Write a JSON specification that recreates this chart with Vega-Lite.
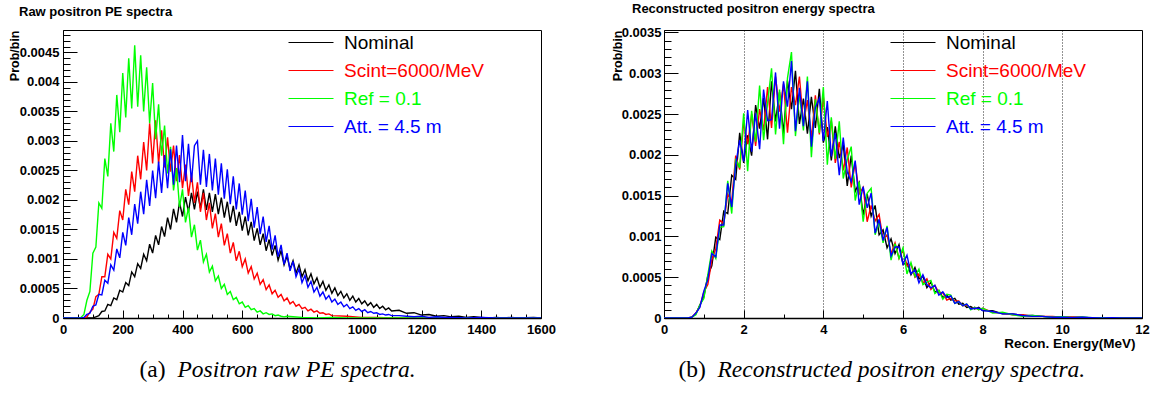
{
"$schema":"https://vega.github.io/schema/vega-lite/v6.json",
"padding":{"left":7,"top":2,"right":6,"bottom":6},
"background":"white",
"bounds":"flush",
"spacing":123,
"config":{"view":{"stroke":"#000","strokeWidth":1},"axis":{"labelFont":"Liberation Sans","labelFontWeight":"bold","labelFontSize":13,"labelColor":"#000","tickColor":"#000","domainColor":"#000","titleColor":"#000","labelFlush":false,"labelOverlap":false,"grid":false,"tickWidth":1}},
"resolve":{"scale":{"color":"shared"},"legend":{"color":"independent"}},
"datasets":{
"left":[
{"s":"N","x":0,"y":0},{"s":"N","x":100,"y":0},{"s":"N","x":110,"y":0.00002},{"s":"N","x":120,"y":0.00004},{"s":"N","x":130,"y":0.00011},{"s":"N","x":140,"y":0.00012},{"s":"N","x":150,"y":0.00023},{"s":"N","x":160,"y":0.00021},{"s":"N","x":170,"y":0.00034},{"s":"N","x":180,"y":0.00031},{"s":"N","x":190,"y":0.00047},{"s":"N","x":200,"y":0.00044},{"s":"N","x":210,"y":0.0006},{"s":"N","x":220,"y":0.00055},{"s":"N","x":230,"y":0.00078},{"s":"N","x":240,"y":0.0007},{"s":"N","x":250,"y":0.00092},{"s":"N","x":260,"y":0.00084},{"s":"N","x":270,"y":0.00108},{"s":"N","x":280,"y":0.00097},{"s":"N","x":290,"y":0.00125},{"s":"N","x":300,"y":0.0011},{"s":"N","x":310,"y":0.0014},{"s":"N","x":320,"y":0.00124},{"s":"N","x":330,"y":0.00155},{"s":"N","x":340,"y":0.00138},{"s":"N","x":350,"y":0.0017},{"s":"N","x":360,"y":0.0015},{"s":"N","x":370,"y":0.00185},{"s":"N","x":380,"y":0.00162},{"s":"N","x":390,"y":0.00196},{"s":"N","x":400,"y":0.00172},{"s":"N","x":410,"y":0.00205},{"s":"N","x":420,"y":0.0018},{"s":"N","x":430,"y":0.00212},{"s":"N","x":440,"y":0.00184},{"s":"N","x":450,"y":0.00214},{"s":"N","x":460,"y":0.00186},{"s":"N","x":470,"y":0.00218},{"s":"N","x":480,"y":0.00183},{"s":"N","x":490,"y":0.00212},{"s":"N","x":500,"y":0.0018},{"s":"N","x":510,"y":0.0021},{"s":"N","x":520,"y":0.00176},{"s":"N","x":530,"y":0.00204},{"s":"N","x":540,"y":0.0017},{"s":"N","x":550,"y":0.00197},{"s":"N","x":560,"y":0.00162},{"s":"N","x":570,"y":0.0019},{"s":"N","x":580,"y":0.00156},{"s":"N","x":590,"y":0.0018},{"s":"N","x":600,"y":0.00148},{"s":"N","x":610,"y":0.00172},{"s":"N","x":620,"y":0.0014},{"s":"N","x":630,"y":0.00163},{"s":"N","x":640,"y":0.00131},{"s":"N","x":650,"y":0.00152},{"s":"N","x":660,"y":0.00124},{"s":"N","x":670,"y":0.00143},{"s":"N","x":680,"y":0.00114},{"s":"N","x":690,"y":0.00133},{"s":"N","x":700,"y":0.00106},{"s":"N","x":710,"y":0.00123},{"s":"N","x":720,"y":0.00098},{"s":"N","x":730,"y":0.00114},{"s":"N","x":740,"y":0.0009},{"s":"N","x":750,"y":0.00105},{"s":"N","x":760,"y":0.00083},{"s":"N","x":770,"y":0.00097},{"s":"N","x":780,"y":0.00076},{"s":"N","x":790,"y":0.0009},{"s":"N","x":800,"y":0.0007},{"s":"N","x":810,"y":0.00082},{"s":"N","x":820,"y":0.00063},{"s":"N","x":830,"y":0.00075},{"s":"N","x":840,"y":0.00058},{"s":"N","x":850,"y":0.00068},{"s":"N","x":860,"y":0.00052},{"s":"N","x":870,"y":0.00062},{"s":"N","x":880,"y":0.00047},{"s":"N","x":890,"y":0.00056},{"s":"N","x":900,"y":0.00042},{"s":"N","x":910,"y":0.00051},{"s":"N","x":920,"y":0.00038},{"s":"N","x":930,"y":0.00045},{"s":"N","x":940,"y":0.00034},{"s":"N","x":950,"y":0.00041},{"s":"N","x":960,"y":0.0003},{"s":"N","x":970,"y":0.00037},{"s":"N","x":980,"y":0.00027},{"s":"N","x":990,"y":0.00033},{"s":"N","x":1000,"y":0.00024},{"s":"N","x":1010,"y":0.00029},{"s":"N","x":1020,"y":0.00021},{"s":"N","x":1030,"y":0.00026},{"s":"N","x":1040,"y":0.00018},{"s":"N","x":1050,"y":0.00023},{"s":"N","x":1060,"y":0.00016},{"s":"N","x":1070,"y":0.0002},{"s":"N","x":1080,"y":0.00014},{"s":"N","x":1090,"y":0.00017},{"s":"N","x":1100,"y":0.00012},{"s":"N","x":1125,"y":0.00013},{"s":"N","x":1150,"y":0.00008},{"s":"N","x":1175,"y":0.00009},{"s":"N","x":1200,"y":0.00005},{"s":"N","x":1225,"y":0.00006},{"s":"N","x":1250,"y":0.00003},{"s":"N","x":1275,"y":0.00004},{"s":"N","x":1300,"y":0.00002},{"s":"N","x":1325,"y":0.00003},{"s":"N","x":1350,"y":0.00001},{"s":"N","x":1375,"y":0.00002},{"s":"N","x":1400,"y":0.00001},{"s":"N","x":1425,"y":0},{"s":"N","x":1450,"y":0.00001},{"s":"N","x":1475,"y":0},{"s":"N","x":1500,"y":0.00001},{"s":"N","x":1525,"y":0},{"s":"N","x":1575,"y":0.00001},{"s":"N","x":1600,"y":0},
{"s":"S","x":0,"y":0},{"s":"S","x":70,"y":0},{"s":"S","x":80,"y":0.00002},{"s":"S","x":90,"y":0.0001},{"s":"S","x":100,"y":0.00015},{"s":"S","x":110,"y":0.00036},{"s":"S","x":120,"y":0.0004},{"s":"S","x":130,"y":0.0007},{"s":"S","x":140,"y":0.0007},{"s":"S","x":150,"y":0.00108},{"s":"S","x":160,"y":0.001},{"s":"S","x":170,"y":0.00145},{"s":"S","x":180,"y":0.00135},{"s":"S","x":190,"y":0.00182},{"s":"S","x":200,"y":0.00166},{"s":"S","x":210,"y":0.00218},{"s":"S","x":220,"y":0.00192},{"s":"S","x":230,"y":0.00248},{"s":"S","x":240,"y":0.00214},{"s":"S","x":250,"y":0.00275},{"s":"S","x":260,"y":0.00235},{"s":"S","x":270,"y":0.00298},{"s":"S","x":280,"y":0.0025},{"s":"S","x":290,"y":0.0033},{"s":"S","x":300,"y":0.00262},{"s":"S","x":310,"y":0.00335},{"s":"S","x":320,"y":0.00262},{"s":"S","x":330,"y":0.00318},{"s":"S","x":340,"y":0.00255},{"s":"S","x":350,"y":0.00306},{"s":"S","x":360,"y":0.00248},{"s":"S","x":370,"y":0.00292},{"s":"S","x":380,"y":0.00232},{"s":"S","x":390,"y":0.00276},{"s":"S","x":400,"y":0.0022},{"s":"S","x":410,"y":0.0026},{"s":"S","x":420,"y":0.00207},{"s":"S","x":430,"y":0.00245},{"s":"S","x":440,"y":0.00195},{"s":"S","x":450,"y":0.0023},{"s":"S","x":460,"y":0.0018},{"s":"S","x":470,"y":0.00212},{"s":"S","x":480,"y":0.00166},{"s":"S","x":490,"y":0.00195},{"s":"S","x":500,"y":0.00152},{"s":"S","x":510,"y":0.00177},{"s":"S","x":520,"y":0.00137},{"s":"S","x":530,"y":0.0016},{"s":"S","x":540,"y":0.00123},{"s":"S","x":550,"y":0.00143},{"s":"S","x":560,"y":0.0011},{"s":"S","x":570,"y":0.00128},{"s":"S","x":580,"y":0.00097},{"s":"S","x":590,"y":0.00113},{"s":"S","x":600,"y":0.00087},{"s":"S","x":610,"y":0.001},{"s":"S","x":620,"y":0.00076},{"s":"S","x":630,"y":0.00087},{"s":"S","x":640,"y":0.00066},{"s":"S","x":650,"y":0.00076},{"s":"S","x":660,"y":0.00057},{"s":"S","x":670,"y":0.00065},{"s":"S","x":680,"y":0.00048},{"s":"S","x":690,"y":0.00056},{"s":"S","x":700,"y":0.00041},{"s":"S","x":710,"y":0.00047},{"s":"S","x":720,"y":0.00035},{"s":"S","x":730,"y":0.0004},{"s":"S","x":740,"y":0.00029},{"s":"S","x":750,"y":0.00034},{"s":"S","x":760,"y":0.00024},{"s":"S","x":770,"y":0.00028},{"s":"S","x":780,"y":0.0002},{"s":"S","x":790,"y":0.00023},{"s":"S","x":800,"y":0.00016},{"s":"S","x":810,"y":0.00018},{"s":"S","x":820,"y":0.00012},{"s":"S","x":830,"y":0.00015},{"s":"S","x":840,"y":0.0001},{"s":"S","x":850,"y":0.00012},{"s":"S","x":860,"y":0.00008},{"s":"S","x":870,"y":0.00009},{"s":"S","x":880,"y":0.00006},{"s":"S","x":890,"y":0.00007},{"s":"S","x":900,"y":0.00004},{"s":"S","x":950,"y":0.00003},{"s":"S","x":1000,"y":0.00001},{"s":"S","x":1050,"y":0.00001},{"s":"S","x":1100,"y":0},{"s":"S","x":1600,"y":0},
{"s":"R","x":0,"y":0},{"s":"R","x":50,"y":0},{"s":"R","x":60,"y":0.00001},{"s":"R","x":70,"y":0.00006},{"s":"R","x":80,"y":0.0003},{"s":"R","x":90,"y":0.00045},{"s":"R","x":100,"y":0.0011},{"s":"R","x":110,"y":0.0012},{"s":"R","x":120,"y":0.00195},{"s":"R","x":130,"y":0.00186},{"s":"R","x":140,"y":0.0027},{"s":"R","x":150,"y":0.0024},{"s":"R","x":160,"y":0.0033},{"s":"R","x":170,"y":0.00282},{"s":"R","x":180,"y":0.00378},{"s":"R","x":190,"y":0.00315},{"s":"R","x":200,"y":0.00415},{"s":"R","x":210,"y":0.0034},{"s":"R","x":220,"y":0.0044},{"s":"R","x":230,"y":0.00355},{"s":"R","x":240,"y":0.00462},{"s":"R","x":250,"y":0.00358},{"s":"R","x":260,"y":0.00445},{"s":"R","x":270,"y":0.0035},{"s":"R","x":280,"y":0.00425},{"s":"R","x":290,"y":0.0033},{"s":"R","x":300,"y":0.00398},{"s":"R","x":310,"y":0.00303},{"s":"R","x":320,"y":0.00362},{"s":"R","x":330,"y":0.00275},{"s":"R","x":340,"y":0.00326},{"s":"R","x":350,"y":0.00245},{"s":"R","x":360,"y":0.0029},{"s":"R","x":370,"y":0.00216},{"s":"R","x":380,"y":0.00254},{"s":"R","x":390,"y":0.00188},{"s":"R","x":400,"y":0.00218},{"s":"R","x":410,"y":0.00162},{"s":"R","x":420,"y":0.00187},{"s":"R","x":430,"y":0.00137},{"s":"R","x":440,"y":0.00158},{"s":"R","x":450,"y":0.00115},{"s":"R","x":460,"y":0.00132},{"s":"R","x":470,"y":0.00095},{"s":"R","x":480,"y":0.00108},{"s":"R","x":490,"y":0.00078},{"s":"R","x":500,"y":0.00088},{"s":"R","x":510,"y":0.00063},{"s":"R","x":520,"y":0.00071},{"s":"R","x":530,"y":0.0005},{"s":"R","x":540,"y":0.00057},{"s":"R","x":550,"y":0.0004},{"s":"R","x":560,"y":0.00045},{"s":"R","x":570,"y":0.00031},{"s":"R","x":580,"y":0.00035},{"s":"R","x":590,"y":0.00024},{"s":"R","x":600,"y":0.00027},{"s":"R","x":610,"y":0.00018},{"s":"R","x":620,"y":0.00021},{"s":"R","x":630,"y":0.00014},{"s":"R","x":640,"y":0.00016},{"s":"R","x":650,"y":0.0001},{"s":"R","x":660,"y":0.00012},{"s":"R","x":670,"y":0.00007},{"s":"R","x":680,"y":0.00009},{"s":"R","x":690,"y":0.00006},{"s":"R","x":700,"y":0.00007},{"s":"R","x":710,"y":0.00004},{"s":"R","x":720,"y":0.00005},{"s":"R","x":730,"y":0.00003},{"s":"R","x":740,"y":0.00002},{"s":"R","x":750,"y":0.00003},{"s":"R","x":800,"y":0.00001},{"s":"R","x":850,"y":0},{"s":"R","x":900,"y":0.00001},{"s":"R","x":950,"y":0},{"s":"R","x":1600,"y":0},
{"s":"A","x":0,"y":0},{"s":"A","x":60,"y":0},{"s":"A","x":70,"y":0.00001},{"s":"A","x":80,"y":0.00006},{"s":"A","x":90,"y":0.00008},{"s":"A","x":100,"y":0.0002},{"s":"A","x":110,"y":0.00022},{"s":"A","x":120,"y":0.0004},{"s":"A","x":130,"y":0.00039},{"s":"A","x":140,"y":0.00064},{"s":"A","x":150,"y":0.00059},{"s":"A","x":160,"y":0.0009},{"s":"A","x":170,"y":0.00081},{"s":"A","x":180,"y":0.00117},{"s":"A","x":190,"y":0.00102},{"s":"A","x":200,"y":0.00145},{"s":"A","x":210,"y":0.00123},{"s":"A","x":220,"y":0.0017},{"s":"A","x":230,"y":0.00141},{"s":"A","x":240,"y":0.00193},{"s":"A","x":250,"y":0.0016},{"s":"A","x":260,"y":0.00214},{"s":"A","x":270,"y":0.00176},{"s":"A","x":280,"y":0.00234},{"s":"A","x":290,"y":0.0019},{"s":"A","x":300,"y":0.0025},{"s":"A","x":310,"y":0.00203},{"s":"A","x":320,"y":0.00265},{"s":"A","x":330,"y":0.00212},{"s":"A","x":340,"y":0.00276},{"s":"A","x":350,"y":0.0022},{"s":"A","x":360,"y":0.00286},{"s":"A","x":370,"y":0.00226},{"s":"A","x":380,"y":0.00292},{"s":"A","x":390,"y":0.0023},{"s":"A","x":400,"y":0.0031},{"s":"A","x":410,"y":0.00232},{"s":"A","x":420,"y":0.00295},{"s":"A","x":430,"y":0.0023},{"s":"A","x":440,"y":0.00292},{"s":"A","x":450,"y":0.003},{"s":"A","x":460,"y":0.00226},{"s":"A","x":470,"y":0.00285},{"s":"A","x":480,"y":0.00222},{"s":"A","x":490,"y":0.00278},{"s":"A","x":500,"y":0.00216},{"s":"A","x":510,"y":0.0027},{"s":"A","x":520,"y":0.00209},{"s":"A","x":530,"y":0.00262},{"s":"A","x":540,"y":0.00202},{"s":"A","x":550,"y":0.00252},{"s":"A","x":560,"y":0.00193},{"s":"A","x":570,"y":0.0024},{"s":"A","x":580,"y":0.00184},{"s":"A","x":590,"y":0.00228},{"s":"A","x":600,"y":0.00175},{"s":"A","x":610,"y":0.00216},{"s":"A","x":620,"y":0.00164},{"s":"A","x":630,"y":0.00202},{"s":"A","x":640,"y":0.00153},{"s":"A","x":650,"y":0.00188},{"s":"A","x":660,"y":0.00142},{"s":"A","x":670,"y":0.00172},{"s":"A","x":680,"y":0.00129},{"s":"A","x":690,"y":0.00156},{"s":"A","x":700,"y":0.00116},{"s":"A","x":710,"y":0.0014},{"s":"A","x":720,"y":0.00104},{"s":"A","x":730,"y":0.00124},{"s":"A","x":740,"y":0.00091},{"s":"A","x":750,"y":0.0011},{"s":"A","x":760,"y":0.0008},{"s":"A","x":770,"y":0.00096},{"s":"A","x":780,"y":0.0007},{"s":"A","x":790,"y":0.00083},{"s":"A","x":800,"y":0.0006},{"s":"A","x":810,"y":0.00072},{"s":"A","x":820,"y":0.00052},{"s":"A","x":830,"y":0.00062},{"s":"A","x":840,"y":0.00044},{"s":"A","x":850,"y":0.00052},{"s":"A","x":860,"y":0.00037},{"s":"A","x":870,"y":0.00044},{"s":"A","x":880,"y":0.00032},{"s":"A","x":890,"y":0.00038},{"s":"A","x":900,"y":0.00027},{"s":"A","x":910,"y":0.00032},{"s":"A","x":920,"y":0.00023},{"s":"A","x":930,"y":0.00027},{"s":"A","x":940,"y":0.00019},{"s":"A","x":950,"y":0.00023},{"s":"A","x":960,"y":0.00016},{"s":"A","x":970,"y":0.00019},{"s":"A","x":980,"y":0.00013},{"s":"A","x":990,"y":0.00016},{"s":"A","x":1000,"y":0.00011},{"s":"A","x":1010,"y":0.00014},{"s":"A","x":1020,"y":0.00009},{"s":"A","x":1030,"y":0.00011},{"s":"A","x":1040,"y":0.00008},{"s":"A","x":1050,"y":0.00009},{"s":"A","x":1060,"y":0.00006},{"s":"A","x":1070,"y":0.00007},{"s":"A","x":1080,"y":0.00005},{"s":"A","x":1090,"y":0.00006},{"s":"A","x":1100,"y":0.00004},{"s":"A","x":1125,"y":0.00004},{"s":"A","x":1150,"y":0.00003},{"s":"A","x":1175,"y":0.00002},{"s":"A","x":1200,"y":0.00003},{"s":"A","x":1225,"y":0.00001},{"s":"A","x":1250,"y":0.00002},{"s":"A","x":1275,"y":0.00001},{"s":"A","x":1300,"y":0.00001},{"s":"A","x":1350,"y":0},{"s":"A","x":1400,"y":0.00001},{"s":"A","x":1450,"y":0},{"s":"A","x":1600,"y":0}
],
"right":[
{"s":"N","x":0,"y":0},{"s":"N","x":0.6,"y":0},{"s":"N","x":0.7,"y":0.00001},{"s":"N","x":0.8,"y":0.00005},{"s":"N","x":0.9,"y":0.00016},{"s":"N","x":1,"y":0.00026},{"s":"N","x":1.1,"y":0.00052},{"s":"N","x":1.2,"y":0.00064},{"s":"N","x":1.3,"y":0.00099},{"s":"N","x":1.4,"y":0.00096},{"s":"N","x":1.5,"y":0.00131},{"s":"N","x":1.6,"y":0.00128},{"s":"N","x":1.7,"y":0.00175},{"s":"N","x":1.8,"y":0.0017},{"s":"N","x":1.9,"y":0.00227},{"s":"N","x":2,"y":0.0019},{"s":"N","x":2.1,"y":0.00224},{"s":"N","x":2.2,"y":0.00199},{"s":"N","x":2.3,"y":0.00261},{"s":"N","x":2.4,"y":0.00232},{"s":"N","x":2.5,"y":0.0027},{"s":"N","x":2.6,"y":0.00219},{"s":"N","x":2.7,"y":0.0029},{"s":"N","x":2.8,"y":0.00241},{"s":"N","x":2.9,"y":0.00277},{"s":"N","x":3,"y":0.00226},{"s":"N","x":3.1,"y":0.00291},{"s":"N","x":3.2,"y":0.00256},{"s":"N","x":3.3,"y":0.00303},{"s":"N","x":3.4,"y":0.00238},{"s":"N","x":3.5,"y":0.00269},{"s":"N","x":3.6,"y":0.00226},{"s":"N","x":3.7,"y":0.00271},{"s":"N","x":3.8,"y":0.00233},{"s":"N","x":3.9,"y":0.00281},{"s":"N","x":4,"y":0.00215},{"s":"N","x":4.1,"y":0.00234},{"s":"N","x":4.2,"y":0.00193},{"s":"N","x":4.3,"y":0.00235},{"s":"N","x":4.4,"y":0.00196},{"s":"N","x":4.5,"y":0.00213},{"s":"N","x":4.6,"y":0.00162},{"s":"N","x":4.7,"y":0.00199},{"s":"N","x":4.8,"y":0.00155},{"s":"N","x":4.9,"y":0.00166},{"s":"N","x":5,"y":0.00126},{"s":"N","x":5.1,"y":0.00152},{"s":"N","x":5.2,"y":0.00125},{"s":"N","x":5.3,"y":0.00138},{"s":"N","x":5.4,"y":0.00102},{"s":"N","x":5.5,"y":0.00108},{"s":"N","x":5.6,"y":0.00086},{"s":"N","x":5.7,"y":0.00097},{"s":"N","x":5.8,"y":0.00079},{"s":"N","x":5.9,"y":0.0009},{"s":"N","x":6,"y":0.00066},{"s":"N","x":6.1,"y":0.00067},{"s":"N","x":6.2,"y":0.00053},{"s":"N","x":6.3,"y":0.00062},{"s":"N","x":6.4,"y":0.00048},{"s":"N","x":6.5,"y":0.00051},{"s":"N","x":6.6,"y":0.00037},{"s":"N","x":6.7,"y":0.00044},{"s":"N","x":6.8,"y":0.00032},{"s":"N","x":6.9,"y":0.00034},{"s":"N","x":7,"y":0.00025},{"s":"N","x":7.1,"y":0.00028},{"s":"N","x":7.2,"y":0.00022},{"s":"N","x":7.3,"y":0.00024},{"s":"N","x":7.4,"y":0.00017},{"s":"N","x":7.5,"y":0.00018},{"s":"N","x":7.6,"y":0.00013},{"s":"N","x":7.7,"y":0.00014},{"s":"N","x":7.8,"y":0.00011},{"s":"N","x":7.9,"y":0.00013},{"s":"N","x":8,"y":0.00009},{"s":"N","x":8.25,"y":0.00009},{"s":"N","x":8.5,"y":0.00005},{"s":"N","x":8.75,"y":0.00005},{"s":"N","x":9,"y":0.00003},{"s":"N","x":9.25,"y":0.00003},{"s":"N","x":9.5,"y":0.00002},{"s":"N","x":9.75,"y":0.00001},{"s":"N","x":10,"y":0.00001},{"s":"N","x":10.25,"y":0.00001},{"s":"N","x":10.5,"y":0.00001},{"s":"N","x":10.75,"y":0},{"s":"N","x":11,"y":0.000005},{"s":"N","x":11.25,"y":0},{"s":"N","x":12,"y":0},
{"s":"S","x":0,"y":0},{"s":"S","x":0.6,"y":0},{"s":"S","x":0.7,"y":0.00001},{"s":"S","x":0.8,"y":0.00006},{"s":"S","x":0.9,"y":0.00014},{"s":"S","x":1,"y":0.00032},{"s":"S","x":1.1,"y":0.00041},{"s":"S","x":1.2,"y":0.00071},{"s":"S","x":1.3,"y":0.00085},{"s":"S","x":1.4,"y":0.0012},{"s":"S","x":1.5,"y":0.00116},{"s":"S","x":1.6,"y":0.00152},{"s":"S","x":1.7,"y":0.00143},{"s":"S","x":1.8,"y":0.00199},{"s":"S","x":1.9,"y":0.00182},{"s":"S","x":2,"y":0.0024},{"s":"S","x":2.1,"y":0.00213},{"s":"S","x":2.2,"y":0.0025},{"s":"S","x":2.3,"y":0.00211},{"s":"S","x":2.4,"y":0.00256},{"s":"S","x":2.5,"y":0.0023},{"s":"S","x":2.6,"y":0.00283},{"s":"S","x":2.7,"y":0.00233},{"s":"S","x":2.8,"y":0.00296},{"s":"S","x":2.9,"y":0.00253},{"s":"S","x":3,"y":0.00287},{"s":"S","x":3.1,"y":0.00227},{"s":"S","x":3.2,"y":0.00283},{"s":"S","x":3.3,"y":0.00261},{"s":"S","x":3.4,"y":0.00296},{"s":"S","x":3.5,"y":0.00238},{"s":"S","x":3.6,"y":0.00267},{"s":"S","x":3.7,"y":0.0022},{"s":"S","x":3.8,"y":0.00273},{"s":"S","x":3.9,"y":0.00225},{"s":"S","x":4,"y":0.00271},{"s":"S","x":4.1,"y":0.00222},{"s":"S","x":4.2,"y":0.00242},{"s":"S","x":4.3,"y":0.0019},{"s":"S","x":4.4,"y":0.00216},{"s":"S","x":4.5,"y":0.00181},{"s":"S","x":4.6,"y":0.00209},{"s":"S","x":4.7,"y":0.0016},{"s":"S","x":4.8,"y":0.0019},{"s":"S","x":4.9,"y":0.00152},{"s":"S","x":5,"y":0.0016},{"s":"S","x":5.1,"y":0.00118},{"s":"S","x":5.2,"y":0.00138},{"s":"S","x":5.3,"y":0.00119},{"s":"S","x":5.4,"y":0.00127},{"s":"S","x":5.5,"y":0.00096},{"s":"S","x":5.6,"y":0.00102},{"s":"S","x":5.7,"y":0.00079},{"s":"S","x":5.8,"y":0.00092},{"s":"S","x":5.9,"y":0.00073},{"s":"S","x":6,"y":0.00083},{"s":"S","x":6.1,"y":0.00064},{"s":"S","x":6.2,"y":0.00066},{"s":"S","x":6.3,"y":0.0005},{"s":"S","x":6.4,"y":0.00054},{"s":"S","x":6.5,"y":0.00043},{"s":"S","x":6.6,"y":0.00048},{"s":"S","x":6.7,"y":0.00035},{"s":"S","x":6.8,"y":0.0004},{"s":"S","x":6.9,"y":0.00031},{"s":"S","x":7,"y":0.00031},{"s":"S","x":7.1,"y":0.00022},{"s":"S","x":7.2,"y":0.00024},{"s":"S","x":7.3,"y":0.00021},{"s":"S","x":7.4,"y":0.00021},{"s":"S","x":7.5,"y":0.00015},{"s":"S","x":7.6,"y":0.00016},{"s":"S","x":7.7,"y":0.00011},{"s":"S","x":7.8,"y":0.00013},{"s":"S","x":7.9,"y":0.0001},{"s":"S","x":8,"y":0.00012},{"s":"S","x":8.25,"y":0.00007},{"s":"S","x":8.5,"y":0.00006},{"s":"S","x":8.75,"y":0.00004},{"s":"S","x":9,"y":0.00004},{"s":"S","x":9.25,"y":0.00002},{"s":"S","x":9.5,"y":0.00002},{"s":"S","x":9.75,"y":0.00002},{"s":"S","x":10,"y":0.00001},{"s":"S","x":10.25,"y":0.00001},{"s":"S","x":10.5,"y":0.000005},{"s":"S","x":10.75,"y":0.000005},{"s":"S","x":11,"y":0},{"s":"S","x":12,"y":0},
{"s":"R","x":0,"y":0},{"s":"R","x":0.6,"y":0},{"s":"R","x":0.7,"y":0.00001},{"s":"R","x":0.8,"y":0.00004},{"s":"R","x":0.9,"y":0.00016},{"s":"R","x":1,"y":0.00024},{"s":"R","x":1.1,"y":0.00053},{"s":"R","x":1.2,"y":0.00082},{"s":"R","x":1.3,"y":0.00073},{"s":"R","x":1.4,"y":0.00111},{"s":"R","x":1.5,"y":0.00112},{"s":"R","x":1.6,"y":0.00168},{"s":"R","x":1.7,"y":0.00128},{"s":"R","x":1.8,"y":0.00195},{"s":"R","x":1.9,"y":0.00184},{"s":"R","x":2,"y":0.00251},{"s":"R","x":2.1,"y":0.0018},{"s":"R","x":2.2,"y":0.00254},{"s":"R","x":2.3,"y":0.00216},{"s":"R","x":2.4,"y":0.00285},{"s":"R","x":2.5,"y":0.00218},{"s":"R","x":2.6,"y":0.00263},{"s":"R","x":2.7,"y":0.00306},{"s":"R","x":2.8,"y":0.00225},{"s":"R","x":2.9,"y":0.0028},{"s":"R","x":3,"y":0.00213},{"s":"R","x":3.1,"y":0.00294},{"s":"R","x":3.2,"y":0.00326},{"s":"R","x":3.3,"y":0.00223},{"s":"R","x":3.4,"y":0.00275},{"s":"R","x":3.5,"y":0.0023},{"s":"R","x":3.6,"y":0.00296},{"s":"R","x":3.7,"y":0.00197},{"s":"R","x":3.8,"y":0.00268},{"s":"R","x":3.9,"y":0.00227},{"s":"R","x":4,"y":0.00283},{"s":"R","x":4.1,"y":0.00188},{"s":"R","x":4.2,"y":0.00246},{"s":"R","x":4.3,"y":0.00195},{"s":"R","x":4.4,"y":0.00241},{"s":"R","x":4.5,"y":0.00171},{"s":"R","x":4.6,"y":0.00194},{"s":"R","x":4.7,"y":0.0021},{"s":"R","x":4.8,"y":0.00144},{"s":"R","x":4.9,"y":0.00167},{"s":"R","x":5,"y":0.00118},{"s":"R","x":5.1,"y":0.00153},{"s":"R","x":5.2,"y":0.00159},{"s":"R","x":5.3,"y":0.00102},{"s":"R","x":5.4,"y":0.00118},{"s":"R","x":5.5,"y":0.00092},{"s":"R","x":5.6,"y":0.00113},{"s":"R","x":5.7,"y":0.00071},{"s":"R","x":5.8,"y":0.00091},{"s":"R","x":5.9,"y":0.00073},{"s":"R","x":6,"y":0.00086},{"s":"R","x":6.1,"y":0.00054},{"s":"R","x":6.2,"y":0.00068},{"s":"R","x":6.3,"y":0.00051},{"s":"R","x":6.4,"y":0.0006},{"s":"R","x":6.5,"y":0.00041},{"s":"R","x":6.6,"y":0.00044},{"s":"R","x":6.7,"y":0.00046},{"s":"R","x":6.8,"y":0.0003},{"s":"R","x":6.9,"y":0.00034},{"s":"R","x":7,"y":0.00023},{"s":"R","x":7.1,"y":0.00029},{"s":"R","x":7.2,"y":0.00028},{"s":"R","x":7.3,"y":0.00018},{"s":"R","x":7.4,"y":0.0002},{"s":"R","x":7.5,"y":0.00015},{"s":"R","x":7.6,"y":0.00017},{"s":"R","x":7.7,"y":0.0001},{"s":"R","x":7.8,"y":0.00013},{"s":"R","x":7.9,"y":0.0001},{"s":"R","x":8,"y":0.00012},{"s":"R","x":8.25,"y":0.00006},{"s":"R","x":8.5,"y":0.00007},{"s":"R","x":8.75,"y":0.00004},{"s":"R","x":9,"y":0.00002},{"s":"R","x":9.25,"y":0.00003},{"s":"R","x":9.5,"y":0.00002},{"s":"R","x":9.75,"y":0.00001},{"s":"R","x":10,"y":0.000015},{"s":"R","x":10.25,"y":0.000005},{"s":"R","x":10.5,"y":0.00001},{"s":"R","x":10.75,"y":0.000005},{"s":"R","x":11,"y":0.000005},{"s":"R","x":11.25,"y":0},{"s":"R","x":12,"y":0},
{"s":"A","x":0,"y":0},{"s":"A","x":0.6,"y":0},{"s":"A","x":0.7,"y":0.00001},{"s":"A","x":0.8,"y":0.00006},{"s":"A","x":0.9,"y":0.00013},{"s":"A","x":1,"y":0.00033},{"s":"A","x":1.1,"y":0.00047},{"s":"A","x":1.2,"y":0.00079},{"s":"A","x":1.3,"y":0.00075},{"s":"A","x":1.4,"y":0.00114},{"s":"A","x":1.5,"y":0.00114},{"s":"A","x":1.6,"y":0.00165},{"s":"A","x":1.7,"y":0.00136},{"s":"A","x":1.8,"y":0.00188},{"s":"A","x":1.9,"y":0.00218},{"s":"A","x":2,"y":0.00192},{"s":"A","x":2.1,"y":0.00255},{"s":"A","x":2.2,"y":0.00204},{"s":"A","x":2.3,"y":0.00251},{"s":"A","x":2.4,"y":0.00207},{"s":"A","x":2.5,"y":0.0028},{"s":"A","x":2.6,"y":0.00242},{"s":"A","x":2.7,"y":0.00243},{"s":"A","x":2.8,"y":0.00301},{"s":"A","x":2.9,"y":0.00232},{"s":"A","x":3,"y":0.0029},{"s":"A","x":3.1,"y":0.00259},{"s":"A","x":3.2,"y":0.00315},{"s":"A","x":3.3,"y":0.00229},{"s":"A","x":3.4,"y":0.00282},{"s":"A","x":3.5,"y":0.00235},{"s":"A","x":3.6,"y":0.0029},{"s":"A","x":3.7,"y":0.0021},{"s":"A","x":3.8,"y":0.00258},{"s":"A","x":3.9,"y":0.00269},{"s":"A","x":4,"y":0.00217},{"s":"A","x":4.1,"y":0.00266},{"s":"A","x":4.2,"y":0.00198},{"s":"A","x":4.3,"y":0.00227},{"s":"A","x":4.4,"y":0.00175},{"s":"A","x":4.5,"y":0.00221},{"s":"A","x":4.6,"y":0.00179},{"s":"A","x":4.7,"y":0.00167},{"s":"A","x":4.8,"y":0.00193},{"s":"A","x":4.9,"y":0.00139},{"s":"A","x":5,"y":0.00161},{"s":"A","x":5.1,"y":0.00135},{"s":"A","x":5.2,"y":0.00153},{"s":"A","x":5.3,"y":0.00104},{"s":"A","x":5.4,"y":0.00121},{"s":"A","x":5.5,"y":0.00095},{"s":"A","x":5.6,"y":0.00111},{"s":"A","x":5.7,"y":0.00076},{"s":"A","x":5.8,"y":0.00087},{"s":"A","x":5.9,"y":0.00087},{"s":"A","x":6,"y":0.00066},{"s":"A","x":6.1,"y":0.00077},{"s":"A","x":6.2,"y":0.00054},{"s":"A","x":6.3,"y":0.00059},{"s":"A","x":6.4,"y":0.00043},{"s":"A","x":6.5,"y":0.00053},{"s":"A","x":6.6,"y":0.00041},{"s":"A","x":6.7,"y":0.00037},{"s":"A","x":6.8,"y":0.0004},{"s":"A","x":6.9,"y":0.00028},{"s":"A","x":7,"y":0.00032},{"s":"A","x":7.1,"y":0.00025},{"s":"A","x":7.2,"y":0.00027},{"s":"A","x":7.3,"y":0.00018},{"s":"A","x":7.4,"y":0.0002},{"s":"A","x":7.5,"y":0.00015},{"s":"A","x":7.6,"y":0.00017},{"s":"A","x":7.7,"y":0.00011},{"s":"A","x":7.8,"y":0.00012},{"s":"A","x":7.9,"y":0.00012},{"s":"A","x":8,"y":0.00009},{"s":"A","x":8.25,"y":0.00008},{"s":"A","x":8.5,"y":0.00005},{"s":"A","x":8.75,"y":0.00005},{"s":"A","x":9,"y":0.00003},{"s":"A","x":9.25,"y":0.00002},{"s":"A","x":9.5,"y":0.00002},{"s":"A","x":9.75,"y":0.00001},{"s":"A","x":10,"y":0.00001},{"s":"A","x":10.25,"y":0.000005},{"s":"A","x":10.5,"y":0.00001},{"s":"A","x":10.75,"y":0.000005},{"s":"A","x":11,"y":0},{"s":"A","x":11.25,"y":0.000005},{"s":"A","x":11.5,"y":0},{"s":"A","x":12,"y":0}
]},
"hconcat":[
{
"width":478,"height":288,
"data":{"name":"left"},
"title":{"text":"Raw positron PE spectra","anchor":"start","frame":"group","dx":-44,"offset":0,"baseline":"alphabetic","font":"Liberation Sans","fontSize":13,"fontWeight":"bold","color":"#000"},
"resolve":{"axis":{"x":"independent"}},
"layer":[
{"mark":{"type":"line","interpolate":"linear","strokeWidth":1.4,"clip":true},
"encoding":{
"x":{"field":"x","type":"quantitative","scale":{"domain":[0,1600],"nice":false,"zero":false},
"axis":{"orient":"bottom","values":[0,50,100,150,200,250,300,350,400,450,500,550,600,650,700,750,800,850,900,950,1000,1050,1100,1150,1200,1250,1300,1350,1400,1450,1500,1550,1600],"format":"d","labelExpr":"datum.value % 200 == 0 ? datum.label : ''","tickSize":{"condition":{"test":"datum.value % 200 == 0","value":-8},"value":-4},"labelPadding":13,"title":null,"domainWidth":1.5}},
"y":{"field":"y","type":"quantitative","scale":{"domain":[0,0.00488],"nice":false,"zero":true},
"axis":{"values":[0,0.0001,0.0002,0.0003,0.0004,0.0005,0.0006,0.0007,0.0008,0.0009,0.001,0.0011,0.0012,0.0013,0.0014,0.0015,0.0016,0.0017,0.0018,0.0019,0.002,0.0021,0.0022,0.0023,0.0024,0.0025,0.0026,0.0027,0.0028,0.0029,0.003,0.0031,0.0032,0.0033,0.0034,0.0035,0.0036,0.0037,0.0038,0.0039,0.004,0.0041,0.0042,0.0043,0.0044,0.0045,0.0046,0.0047,0.0048],"labelExpr":"abs(datum.value*2000-round(datum.value*2000))<0.001 ? format(datum.value,'.4~f') : ''","tickSize":{"condition":{"test":"abs(datum.value*2000-round(datum.value*2000))<0.001","value":-14},"value":-7},"labelPadding":18,"title":"Prob/bin","titleFont":"Liberation Sans","titleFontWeight":"bold","titleFontSize":12.5,"titleAngle":270,"titleX":-49,"titleY":0,"titleAlign":"right","titleBaseline":"middle"}},
"color":{"field":"s","type":"nominal","scale":{"domain":["N","S","R","A"],"range":["#000000","#ff0000","#00ff00","#0000ff"]},
"legend":{"orient":"none","legendX":225,"legendY":3,"title":null,"symbolType":"stroke","symbolSize":2025,"symbolStrokeWidth":1,"labelFont":"Liberation Sans","labelFontSize":19,"labelOffset":10,"clipHeight":19,"rowPadding":8,"padding":0,"labelLimit":300,
"labelExpr":"datum.label=='N'?'Nominal':datum.label=='S'?'Scint=6000/MeV':datum.label=='R'?'Ref = 0.1':'Att. = 4.5 m'",
"encode":{"labels":{"update":{"fill":{"signal":"datum.value=='N'?'#000000':datum.value=='S'?'#ff0000':datum.value=='R'?'#00ff00':'#0000ff'"}}}}}}
}},
{"mark":{"type":"tick","opacity":0},
"encoding":{"x":{"field":"x","type":"quantitative","axis":{"orient":"bottom","domain":false,"ticks":false,"labels":false,"grid":false,"title":"(a)","titleX":76,"titleY":58,"titleAlign":"left","titleBaseline":"alphabetic","titleFont":"Liberation Serif","titleFontSize":23.5,"titleFontWeight":"normal","titleFontStyle":"normal","titleColor":"#000"}}}},
{"mark":{"type":"tick","opacity":0},
"encoding":{"x":{"field":"x","type":"quantitative","axis":{"orient":"bottom","domain":false,"ticks":false,"labels":false,"grid":false,"title":"Positron raw PE spectra.","titleX":114,"titleY":58,"titleAlign":"left","titleBaseline":"alphabetic","titleFont":"Liberation Serif","titleFontSize":23.5,"titleFontWeight":"normal","titleFontStyle":"italic","titleColor":"#000"}}}}
]
},
{
"width":478,"height":288,
"data":{"name":"right"},
"title":{"text":"Reconstructed positron energy spectra","anchor":"start","frame":"group","dx":-32,"offset":0,"baseline":"alphabetic","font":"Liberation Sans","fontSize":13,"fontWeight":"bold","color":"#000"},
"resolve":{"axis":{"x":"independent"}},
"layer":[
{"mark":{"type":"line","interpolate":"linear","strokeWidth":1.4,"clip":true},
"encoding":{
"x":{"field":"x","type":"quantitative","scale":{"domain":[0,12],"nice":false,"zero":false},
"axis":{"orient":"bottom","values":[0,0.5,1,1.5,2,2.5,3,3.5,4,4.5,5,5.5,6,6.5,7,7.5,8,8.5,9,9.5,10,10.5,11,11.5,12],"format":"d","labelExpr":"datum.value % 2 == 0 ? datum.label : ''","tickSize":{"condition":{"test":"datum.value % 2 == 0","value":-8},"value":-4},"labelPadding":13,"domainWidth":1.5,
"grid":true,"gridColor":"#000","gridDash":[1,2],"gridWidth":1,"gridOpacity":{"condition":{"test":"datum.value % 2 == 0 && datum.value > 0 && datum.value < 12","value":0.85},"value":0},
"title":"Recon. Energy(MeV)","titleFont":"Liberation Sans","titleFontWeight":"bold","titleFontSize":13.5,"titleX":471,"titleY":29,"titleAlign":"right","titleBaseline":"alphabetic"}},
"y":{"field":"y","type":"quantitative","scale":{"domain":[0,0.00353],"nice":false,"zero":true},
"axis":{"values":[0,0.0001,0.0002,0.0003,0.0004,0.0005,0.0006,0.0007,0.0008,0.0009,0.001,0.0011,0.0012,0.0013,0.0014,0.0015,0.0016,0.0017,0.0018,0.0019,0.002,0.0021,0.0022,0.0023,0.0024,0.0025,0.0026,0.0027,0.0028,0.0029,0.003,0.0031,0.0032,0.0033,0.0034,0.0035],"labelExpr":"abs(datum.value*2000-round(datum.value*2000))<0.001 ? format(datum.value,'.4~f') : ''","tickSize":{"condition":{"test":"abs(datum.value*2000-round(datum.value*2000))<0.001","value":-14},"value":-7},"labelPadding":17,"title":"Prob/bin","titleFont":"Liberation Sans","titleFontWeight":"bold","titleFontSize":12.5,"titleAngle":270,"titleX":-47,"titleY":0,"titleAlign":"right","titleBaseline":"middle"}},
"color":{"field":"s","type":"nominal","scale":{"domain":["N","S","R","A"],"range":["#000000","#ff0000","#00ff00","#0000ff"]},
"legend":{"orient":"none","legendX":226,"legendY":3,"title":null,"symbolType":"stroke","symbolSize":2025,"symbolStrokeWidth":1,"labelFont":"Liberation Sans","labelFontSize":19,"labelOffset":10,"clipHeight":19,"rowPadding":8,"padding":0,"labelLimit":300,
"labelExpr":"datum.label=='N'?'Nominal':datum.label=='S'?'Scint=6000/MeV':datum.label=='R'?'Ref = 0.1':'Att. = 4.5 m'",
"encode":{"labels":{"update":{"fill":{"signal":"datum.value=='N'?'#000000':datum.value=='S'?'#ff0000':datum.value=='R'?'#00ff00':'#0000ff'"}}}}}}
}},
{"mark":{"type":"tick","opacity":0},
"encoding":{"x":{"field":"x","type":"quantitative","axis":{"orient":"bottom","domain":false,"ticks":false,"labels":false,"grid":false,"title":"(b)","titleX":14,"titleY":58,"titleAlign":"left","titleBaseline":"alphabetic","titleFont":"Liberation Serif","titleFontSize":23.5,"titleFontWeight":"normal","titleFontStyle":"normal","titleColor":"#000"}}}},
{"mark":{"type":"tick","opacity":0},
"encoding":{"x":{"field":"x","type":"quantitative","axis":{"orient":"bottom","domain":false,"ticks":false,"labels":false,"grid":false,"title":"Reconstructed positron energy spectra.","titleX":53,"titleY":58,"titleAlign":"left","titleBaseline":"alphabetic","titleFont":"Liberation Serif","titleFontSize":23.5,"titleFontWeight":"normal","titleFontStyle":"italic","titleColor":"#000"}}}}
]
}
]
}
